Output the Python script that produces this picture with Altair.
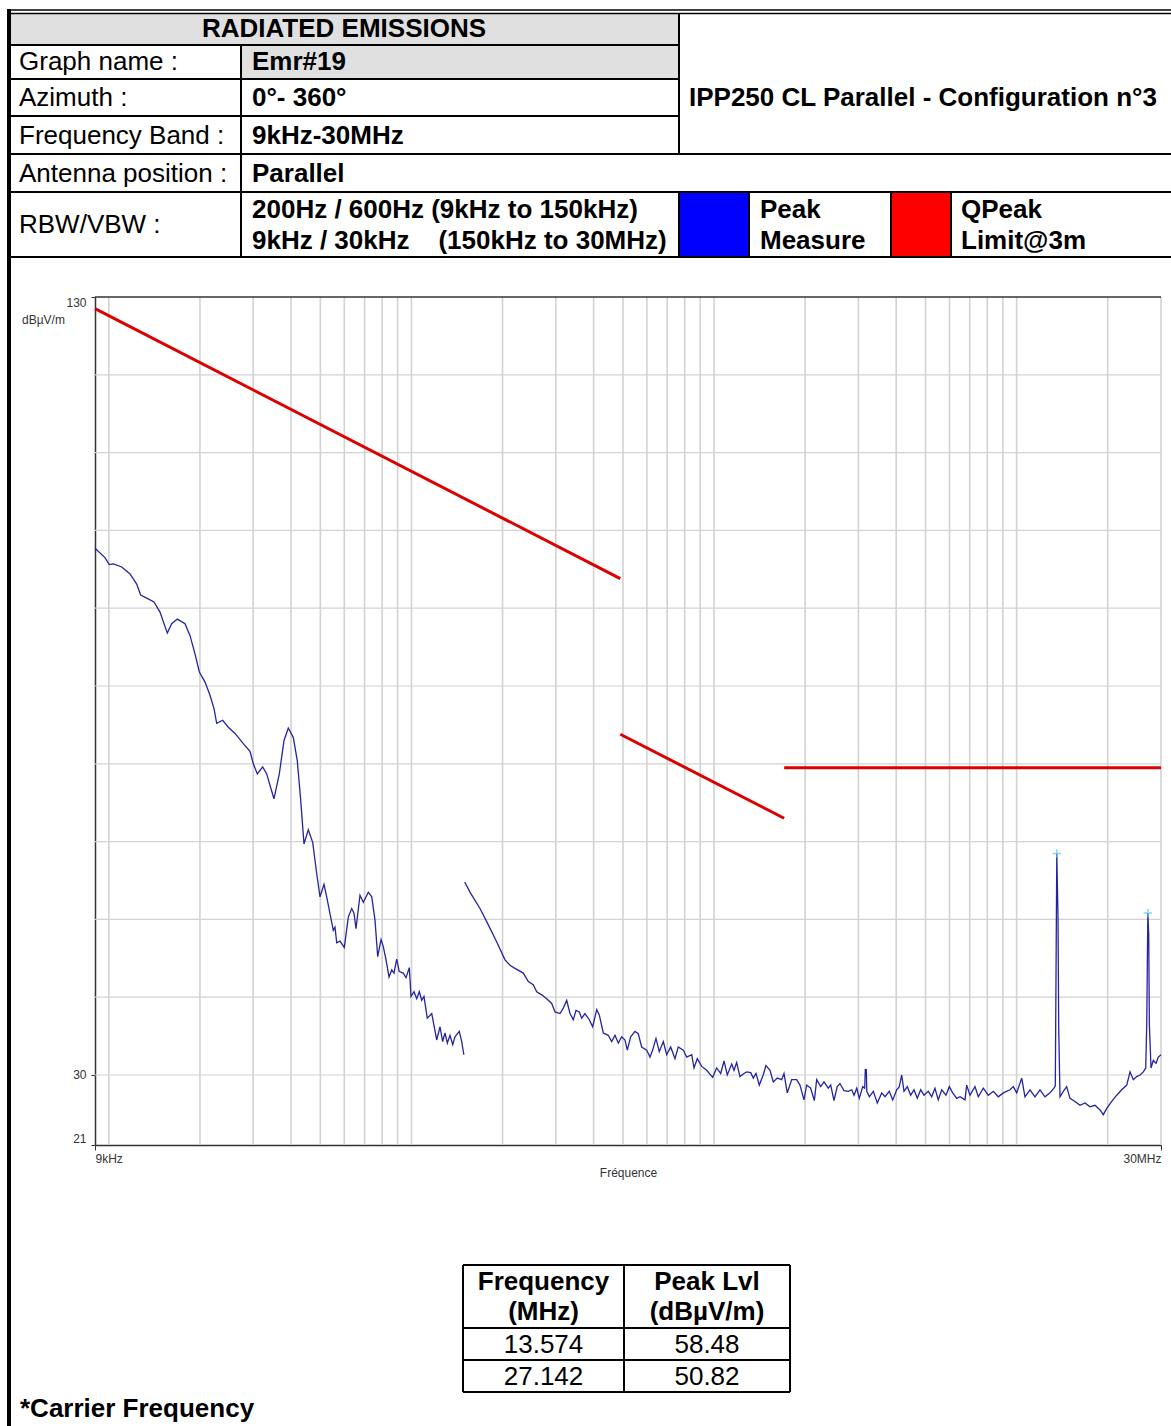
import altair as alt
import pandas as pd

FONT = "Liberation Sans"

# ---------------- header / report text ----------------
report_title = "RADIATED EMISSIONS"
field_labels = ["Graph name :", "Azimuth :", "Frequency Band :", "Antenna position :", "RBW/VBW :"]
field_values = ["Emr#19", "0°- 360°", "9kHz-30MHz", "Parallel"]
rbw_values = ["200Hz / 600Hz (9kHz to 150kHz)",
              "9kHz / 30kHz\u00a0\u00a0\u00a0\u00a0(150kHz to 30MHz)"]
config_name = "IPP250 CL Parallel - Configuration n°3"
legend_names = [["Peak", "Measure"], ["QPeak", "Limit@3m"]]
legend_colors = ["#0000ff", "#ff0000"]
table_headers = [["Frequency", "(MHz)"], ["Peak Lvl", "(dBµV/m)"]]
footnote = "*Carrier Frequency"

# ---------------- measured peaks ----------------
peak_freq_mhz = [13.574, 27.142]
peak_level = [58.48, 50.82]

# ---------------- peak trace, band 1 (9 kHz - 150 kHz) ----------------
seg1_freq_khz = [9.00, 9.71, 10.03, 10.35, 11.03, 11.75, 12.36, 12.74, 13.34, 14.10,
                 14.76, 15.60, 16.13, 16.84, 17.85, 18.54, 19.27, 19.91, 20.79, 21.59,
                 22.26, 22.72, 23.78, 24.82, 26.12, 27.82, 29.27, 30.02, 30.95, 32.24,
                 33.24, 35.12, 36.59, 37.92, 39.18, 40.69, 41.95, 43.06, 44.15, 45.62,
                 47.17, 48.63, 49.87, 51.41, 52.47, 54.09, 55.18, 55.89, 56.63, 58.06,
                 60.00, 61.85, 63.47, 64.59, 65.58, 67.60, 69.34, 72.04, 73.92, 75.79,
                 77.36, 79.34, 80.73, 82.42, 84.32, 86.07, 87.57, 89.38, 91.17, 93.99,
                 95.96, 98.39, 99.67, 102.0, 104.1, 106.2, 108.1, 110.0, 112.8, 116.7,
                 121.2, 124.3, 126.8, 129.1, 131.4, 134.1, 136.9, 139.3, 143.9, 146.6,
                 149.0]
seg1_level = [97.7, 96.5, 95.6, 95.7, 95.3, 94.4, 93.1, 91.7, 91.3, 90.8,
              89.5, 86.8, 88.0, 88.6, 88.0, 86.5, 84.1, 81.8, 80.5, 78.8,
              77.1, 75.2, 75.6, 74.7, 73.9, 72.6, 71.6, 70.0, 68.7, 69.6,
              68.7, 65.5, 68.7, 73.0, 74.6, 73.4, 70.4, 65.3, 59.7, 61.5,
              59.9, 55.9, 52.9, 54.5, 52.9, 50.3, 48.6, 49.0, 47.0, 47.2,
              46.4, 50.3, 51.4, 50.8, 48.8, 53.1, 52.2, 53.5, 52.9, 49.9,
              45.2, 47.4, 46.5, 44.8, 42.6, 43.5, 43.1, 44.9, 43.3, 43.1,
              42.5, 43.8, 40.1, 40.7, 39.8, 40.7, 39.6, 40.1, 37.3, 37.9,
              34.5, 36.2, 34.3, 35.4, 34.1, 35.1, 33.9, 34.9, 35.6, 34.3,
              32.6]

# ---------------- peak trace, band 2 (150 kHz - 30 MHz) ----------------
seg2_freq_khz = [150, 156.1, 168.5, 179.5, 191.4, 203.8, 211.7, 219.9, 234.3, 243.3,
                 252.7, 259.4, 269.5, 279.9, 290.8, 298.2, 309.7, 317.6, 325.9, 334.2,
                 342.7, 349.8, 358.7, 365.3, 374.6, 387.0, 397.1, 409.5, 417.7, 430.6,
                 447.2, 458.9, 470.6, 482.6, 495.2, 507.8, 516.8, 530.3, 547.9, 561.8,
                 576.6, 599.0, 614.2, 626.9, 642.9, 659.2, 679.7, 697.4, 719.0, 742.8,
                 761.7, 791.4, 812.1, 843.8, 858.7, 880.3, 910.4, 945.6, 989.8, 1020,
                 1052, 1079, 1106, 1144, 1164, 1188, 1218, 1256, 1282, 1322,
                 1348, 1376, 1411, 1454, 1484, 1531, 1570, 1618, 1673, 1703,
                 1746, 1806, 1875, 1923, 1983, 2024, 2086, 2145, 2184, 2252,
                 2309, 2386, 2430, 2491, 2554, 2607, 2688, 2778, 2851, 2902,
                 2962, 3021, 3100, 3147, 3162, 3186, 3198, 3260, 3360, 3464,
                 3582, 3673, 3795, 3895, 4015, 4095, 4171, 4244, 4352, 4466,
                 4580, 4696, 4819, 4941, 5106, 5239, 5372, 5509, 5655, 5842,
                 5991, 6148, 6338, 6500, 6751, 6838, 7012, 7284, 7469, 7760,
                 8060, 8373, 8696, 9035, 9507, 9749, 10005, 10392, 10657, 11070,
                 11499, 11946, 12409, 12890, 13289, 13421, 13461, 13700, 13773, 13910,
                 14263, 14636, 15008, 15593, 16196, 16825, 17478, 18156, 18860, 19340,
                 19850, 20619, 21418, 22247, 23114, 23702, 24304, 24938, 25572, 26222,
                 26709, 26913, 27325, 27451, 27807, 28298, 28884, 29394, 30000]
seg2_level = [54.8, 53.5, 51.4, 49.3, 47.1, 44.8, 44.1, 43.7, 43.1, 42.0,
              41.6, 40.7, 40.3, 39.8, 39.2, 38.1, 37.9, 38.6, 39.6, 37.9,
              37.1, 38.3, 38.1, 37.3, 37.9, 37.1, 36.2, 38.4, 37.7, 35.4,
              35.1, 34.3, 35.1, 34.1, 34.9, 34.5, 33.2, 34.9, 35.6, 35.3,
              33.6, 33.2, 32.3, 33.2, 34.7, 33.0, 34.3, 32.6, 33.6, 32.1,
              33.6, 33.2, 32.3, 32.6, 30.9, 32.1, 31.1, 30.6, 29.7, 30.9,
              30.2, 31.8, 30.0, 31.4, 30.6, 31.6, 29.8, 30.2, 30.4, 30.3,
              29.6, 30.2, 28.7, 30.0, 31.2, 30.6, 29.1, 29.6, 29.4, 30.2,
              27.7, 29.4, 29.4, 28.7, 26.8, 28.7, 28.3, 26.7, 29.4, 28.5,
              29.1, 28.3, 28.7, 26.7, 28.5, 28.9, 28.0, 27.9, 28.1, 27.4,
              28.3, 27.0, 28.5, 28.3, 30.7, 30.7, 27.9, 27.2, 27.9, 26.4,
              27.7, 27.2, 27.9, 26.8, 28.1, 28.5, 30.0, 27.9, 28.5, 27.4,
              28.1, 27.0, 28.1, 27.4, 27.9, 27.2, 28.3, 26.8, 28.1, 27.4,
              28.5, 27.7, 27.0, 27.2, 26.8, 28.7, 27.4, 28.5, 27.2, 28.3,
              27.4, 27.9, 27.2, 27.7, 28.1, 28.5, 27.7, 29.6, 27.2, 28.1,
              27.2, 28.1, 27.2, 27.7, 28.3, 28.6, 36.2, 50.3, 36.2, 27.2,
              27.9, 28.5, 27.0, 26.6, 26.1, 26.4, 25.9, 26.1, 25.5, 24.9,
              25.7, 26.6, 27.4, 28.1, 28.7, 30.4, 29.4, 29.8, 30.0, 30.4,
              30.9, 36.4, 48.0, 36.6, 30.9, 31.9, 31.5, 32.3, 32.6]

# ---------------- quasi-peak limit @3m (three bands) ----------------
limit_freq_khz = [9, 490, 490, 1705, 1705, 30000]
limit_level = [128.5, 93.8, 73.8, 63.0, 69.5, 69.5]
limit_band = ["9k-490k", "9k-490k", "490k-1.705M", "490k-1.705M", "1.705M-30M", "1.705M-30M"]

# ---------------- grid ----------------
grid_freq_khz = [10, 20, 30, 40, 50, 60, 70, 80, 90,
                 100, 200, 300, 400, 500, 600, 700, 800, 900,
                 1000, 2000, 3000, 4000, 5000, 6000, 7000, 8000, 9000,
                 10000, 20000, 30000]
grid_level = [30, 40, 50, 60, 70, 80, 90, 100, 110, 120]
axis_freq_khz = [9, 30000]
axis_level = [21, 30, 130]

# ---------------- tables ----------------
seg1 = pd.DataFrame({"f": seg1_freq_khz, "v": seg1_level, "band": "low"})
seg2 = pd.DataFrame({"f": seg2_freq_khz + [m * 1000 for m in peak_freq_mhz],
                     "v": seg2_level + peak_level, "band": "high"}).sort_values("f")
trace = pd.concat([seg1, seg2], ignore_index=True)
limit = pd.DataFrame({"f": limit_freq_khz, "v": limit_level, "band": limit_band})
peaks = pd.DataFrame({"f": [m * 1000 for m in peak_freq_mhz], "v": peak_level})
gx = pd.DataFrame({"f": grid_freq_khz})
gy = pd.DataFrame({"v": grid_level})
one = pd.DataFrame({"k": [0]})

# ---------------- page layout ----------------
OX, OY = 95, 297          # plot origin on the page
W, H = 1066, 848          # plot area size


def px(x):
    return x - OX


def py(y):
    return y - OY


def box(x1, y1, x2, y2, color):
    return alt.Chart(one).mark_rect(color=color).encode(
        x=alt.value(px(x1)), x2=alt.value(px(x2)),
        y=alt.value(py(y1)), y2=alt.value(py(y2)))


def hline(x1, x2, y, w=2.0, color="black"):
    return alt.Chart(one).mark_rule(color=color, strokeWidth=w).encode(
        x=alt.value(px(x1)), x2=alt.value(px(x2)), y=alt.value(py(y)))


def vline(x, y1, y2, w=2.0, color="black"):
    return alt.Chart(one).mark_rule(color=color, strokeWidth=w).encode(
        x=alt.value(px(x)), y=alt.value(py(y1)), y2=alt.value(py(y2)))


def label(text, x, y, size=26, bold=False, align="left", color="black"):
    return alt.Chart(one).mark_text(
        text=text, align=align, baseline="middle", font=FONT, fontSize=size,
        fontWeight="bold" if bold else "normal", color=color
    ).encode(x=alt.value(px(x)), y=alt.value(py(y)))


# ---------------- scales / axes ----------------
xscale = alt.Scale(type="log", domain=[9, 30000], nice=False)
yscale = alt.Scale(domain=[21, 130], nice=False, zero=False)
x_axis = alt.Axis(values=axis_freq_khz,
                  labelExpr="datum.value < 100 ? '9kHz' : '30MHz'",
                  labelFlush=True, grid=False, tickSize=5, tickColor="#333333",
                  domainColor="#333333", domainWidth=1.5,
                  labelFont=FONT, labelFontSize=12, labelColor="#333333", labelPadding=3,
                  title="Fréquence", titleFont=FONT, titleFontSize=12,
                  titleFontWeight="normal", titleColor="#333333", titlePadding=3)
y_axis = alt.Axis(values=axis_level, labelFlush=True, grid=False, tickSize=4,
                  tickColor="#333333", domainColor="#333333", domainWidth=1.5,
                  labelFont=FONT, labelFontSize=12, labelColor="#333333",
                  labelPadding=5, title=None)
X = alt.X("f:Q", scale=xscale, axis=x_axis)
Y = alt.Y("v:Q", scale=yscale, axis=y_axis)

grid_v = alt.Chart(gx).mark_rule(color="#d2d2d2", strokeWidth=1.6).encode(x=X)
grid_h = alt.Chart(gy).mark_rule(color="#d2d2d2", strokeWidth=1.2).encode(y=Y)
top_frame = alt.Chart(one).mark_rule(color="#333333", strokeWidth=1.5).encode(
    x=alt.value(0), x2=alt.value(W), y=alt.value(0))

limit_lines = alt.Chart(limit).mark_line(color="#dd0000", strokeWidth=3).encode(
    x=X, y=Y, detail="band:N")
trace_line = alt.Chart(trace).mark_line(color="#2424a0", strokeWidth=1.3).encode(
    x=X, y=Y, detail="band:N")
peak_marks = alt.Chart(peaks).mark_point(
    shape="M-1,0L1,0M0,-1L0,1", size=70, filled=False, color="#55c8ee", strokeWidth=1.5
).encode(x=X, y=Y)

unit_label = label("dBµV/m", 22, 320, size=12, color="#333333")

# ---------------- header table ----------------
header = [
    box(10, 13, 679, 45, "#e0e0e0"),
    box(241, 45, 679, 79, "#e0e0e0"),
    box(679, 192, 749, 257, legend_colors[0]),
    box(891, 192, 951, 257, legend_colors[1]),
    hline(10, 1171, 10, 1.5),
    hline(10, 1171, 13.5, 1.5),
    hline(10, 679, 45),
    hline(10, 679, 79),
    hline(10, 679, 116),
    hline(10, 1171, 154),
    hline(10, 1171, 192),
    hline(10, 1171, 257),
    vline(241, 45, 257),
    vline(679, 13, 154),
    vline(679, 192, 257),
    vline(749, 192, 257),
    vline(891, 192, 257),
    vline(951, 192, 257),
    box(7, 9, 11, 1426, "black"),
    label(report_title, 344, 29, bold=True, align="center"),
    label(field_labels[0], 19, 62),
    label(field_labels[1], 19, 98),
    label(field_labels[2], 19, 136),
    label(field_labels[3], 19, 174),
    label(field_labels[4], 19, 225),
    label(field_values[0], 252, 62, bold=True),
    label(field_values[1], 252, 98, bold=True),
    label(field_values[2], 252, 136, bold=True),
    label(field_values[3], 252, 174, bold=True),
    label(rbw_values[0], 252, 210, bold=True),
    label(rbw_values[1], 252, 241, bold=True),
    label(config_name, 689, 98, bold=True),
    label(legend_names[0][0], 760, 210, bold=True),
    label(legend_names[0][1], 760, 241, bold=True),
    label(legend_names[1][0], 961, 210, bold=True),
    label(legend_names[1][1], 961, 241, bold=True),
]

# ---------------- peak table ----------------
tx1, tx2, tx3 = 463, 624, 790
ty = [1265, 1328, 1360, 1392]
c1, c2 = (tx1 + tx2) / 2, (tx2 + tx3) / 2
table = [
    hline(tx1, tx3, ty[0]), hline(tx1, tx3, ty[1]), hline(tx1, tx3, ty[2]), hline(tx1, tx3, ty[3]),
    vline(tx1, ty[0], ty[3]), vline(tx2, ty[0], ty[3]), vline(tx3, ty[0], ty[3]),
    label(table_headers[0][0], c1, 1282, bold=True, align="center"),
    label(table_headers[0][1], c1, 1312, bold=True, align="center"),
    label(table_headers[1][0], c2, 1282, bold=True, align="center"),
    label(table_headers[1][1], c2, 1312, bold=True, align="center"),
    label(f"{peak_freq_mhz[0]:.3f}", c1, 1345, align="center"),
    label(f"{peak_level[0]:.2f}", c2, 1345, align="center"),
    label(f"{peak_freq_mhz[1]:.3f}", c1, 1377, align="center"),
    label(f"{peak_level[1]:.2f}", c2, 1377, align="center"),
    label(footnote, 20, 1409, bold=True),
]

chart = alt.layer(
    grid_v, grid_h, top_frame, limit_lines, trace_line, peak_marks, unit_label,
    *header, *table
).properties(
    width=W, height=H,
    padding={"left": OX, "top": OY, "right": 1171 - OX - W, "bottom": 1426 - OY - H},
    autosize=alt.AutoSizeParams(type="none"),
    background="white",
).configure_view(stroke=None)

chart.save("out.html", embed_options={"renderer": "svg", "actions": False})
